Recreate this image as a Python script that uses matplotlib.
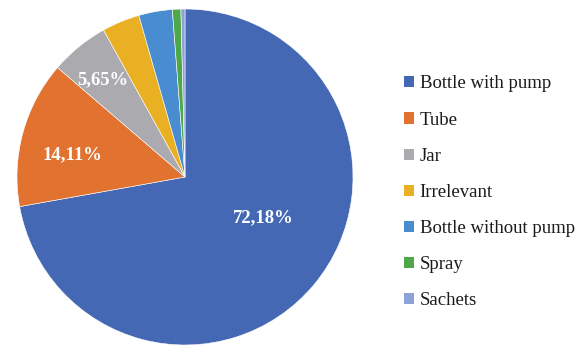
import matplotlib
matplotlib.use("Agg")
import matplotlib.pyplot as plt
from matplotlib.patches import Patch
import numpy as np

categories = ["Bottle with pump", "Tube", "Jar", "Irrelevant",
              "Bottle without pump", "Spray", "Sachets"]
values = [72.18, 14.11, 5.65, 3.63, 3.23, 0.81, 0.39]
show_label = [True, True, True, False, False, False, False]
colors = ["#4468B4", "#E2722F", "#ABABAF", "#E8B022", "#4A8CD0", "#4EA84A", "#8EA2DA"]
# label placement (radius, angle in degrees)
label_pos = [(0.525, -27.7), (0.685, 169.0), (0.756, 130.2), None, None, None, None]

plt.rcParams['font.family'] = ['Liberation Serif', 'DejaVu Serif']

fig = plt.figure(figsize=(5.84, 3.47), dpi=100)
ax = fig.add_axes([17/584, 2/347, 336/584, 336/347])
wedges, _ = ax.pie(values, colors=colors, startangle=90, counterclock=False,
                   radius=1.0, wedgeprops=dict(linewidth=0.4, edgecolor="white"))
ax.set_xlim(-1, 1)
ax.set_ylim(-1, 1)
ax.set_aspect("equal")
ax.axis("off")

for v, show, pos in zip(values, show_label, label_pos):
    if not show:
        continue
    r, a = pos
    ang = np.deg2rad(a)
    ax.text(r * np.cos(ang), r * np.sin(ang), f"{v:.2f}".replace(".", ",") + "%",
            ha="center", va="center", color="white", fontsize=13.4, fontweight="bold")

handles = [Patch(facecolor=c, edgecolor="none") for c in colors]
fig.legend(handles, categories, loc="upper left", bbox_to_anchor=(404/584, 1 - 75.5/347),
           frameon=False, fontsize=13.5, handlelength=0.53, handleheight=0.53,
           handletextpad=0.3, labelspacing=1.02, borderaxespad=0, borderpad=0,
           labelcolor="#1a1a1a")

fig.savefig("out.png", dpi=100)
